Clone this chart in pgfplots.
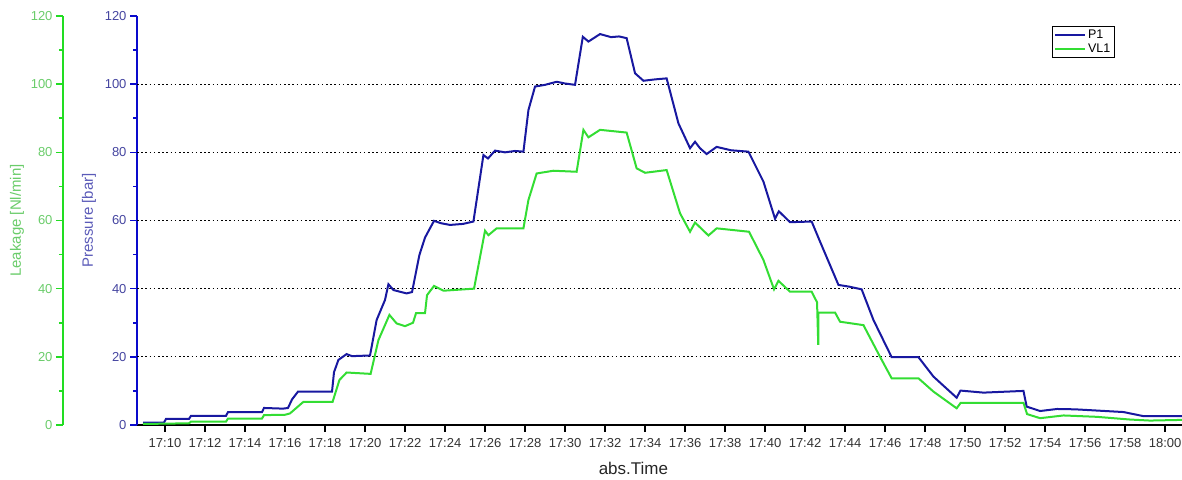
\documentclass[border=0pt]{standalone}
\usepackage{pgfplots}
\pgfplotsset{compat=1.18}
\usepackage{fontspec}
\setmainfont{Liberation Sans}
\definecolor{pcol}{HTML}{1818A0}
\definecolor{paxis}{HTML}{0A0ACC}
\definecolor{ptxt}{HTML}{4545A0}
\definecolor{plab}{HTML}{5A5AB8}
\definecolor{gcol}{HTML}{33DD33}
\definecolor{gaxis}{HTML}{22DD22}
\definecolor{gtxt}{HTML}{6ACC6A}
\begin{document}
\begin{tikzpicture}[x=1pt,y=1pt]
% Leakage axis (left, green)
\begin{axis}[
  at={(63pt,54pt)}, anchor=south west,
  scale only axis, width=1045pt, height=409pt,
  xmin=0, xmax=1, ymin=0, ymax=120,
  axis y line*=left, axis x line=none,
  y axis line style={gaxis, line width=2pt},
  ytick={0,20,...,120}, minor ytick={10,30,...,110},
  tick align=outside,
  major tick length=7pt, minor tick length=4pt,
  every tick/.style={gaxis, line width=1.6pt},
  yticklabel style={text=gtxt, font=\fontsize{13}{13}\selectfont},
  /pgf/number format/assume math mode=true,
  ylabel={Leakage [Nl/min]},
  ylabel style={text=gtxt, font=\fontsize{15}{15}\selectfont, at={(axis description cs:-0.044,0.5)}, anchor=center},
]
\end{axis}
% Main axis
\begin{axis}[
  at={(137pt,54pt)}, anchor=south west,
  scale only axis, width=1045pt, height=409pt,
  xmin=8.6, xmax=60.85, ymin=0, ymax=120,
  axis x line*=bottom, axis y line*=left,
  x axis line style={black, line width=2pt},
  y axis line style={paxis, line width=2pt},
  tick align=outside,
  major tick length=7pt, minor tick length=4pt,
  xtick={10,12,...,60},
  xticklabels={17:10,17:12,17:14,17:16,17:18,17:20,17:22,17:24,17:26,17:28,17:30,17:32,17:34,17:36,17:38,17:40,17:42,17:44,17:46,17:48,17:50,17:52,17:54,17:56,17:58,18:00},
  x tick style={black, line width=1.6pt},
  y tick style={paxis, line width=1.6pt},
  ytick={0,20,...,120}, minor ytick={10,30,...,110},
  xticklabel style={text=black!80, font=\fontsize{13}{13}\selectfont, yshift=-3pt},
  yticklabel style={text=ptxt, font=\fontsize{13}{13}\selectfont},
  /pgf/number format/assume math mode=true,
  extra y ticks={20,40,60,80,100},
  extra y tick labels={},
  extra y tick style={grid=major, major tick length=0pt, major grid style={black, line width=0.9pt, dash pattern=on 1.6pt off 2.6pt}},
  ylabel={Pressure [bar]},
  ylabel style={text=plab, font=\fontsize{15}{15}\selectfont, at={(axis description cs:-0.046,0.5)}, anchor=center},
  xlabel={abs.Time},
  xlabel style={text=black!85, font=\fontsize{17}{17}\selectfont, at={(axis description cs:0.475,0)}, anchor=center, yshift=-43pt},
  legend style={at={(0.935,0.976)}, anchor=north east, draw=black, line width=0.6pt, font=\fontsize{12.5}{12.5}\selectfont, inner sep=1.5pt, row sep=0pt, cells={anchor=west}},
  legend image code/.code={\draw[#1, line width=2pt] (0pt,0pt) -- (30pt,0pt);},
  clip=false,
]
\addplot[pcol, line width=2pt] coordinates {
(8.9,0.7)(9.95,0.7)(10.05,1.8)(11.2,1.8)(11.3,2.7)(13.05,2.7)(13.15,3.8)(14.85,3.8)
(14.95,5.0)(15.9,4.8)(16.15,5.0)(16.35,7.5)(16.65,9.8)(18.35,9.8)(18.45,15.5)(18.67,19.1)
(19.08,20.8)(19.35,20.2)(20.25,20.4)(20.58,30.8)(21.0,36.7)(21.17,41.3)(21.42,39.6)
(22.08,38.6)(22.35,39.0)(22.72,49.9)(23.0,55)(23.45,59.9)(23.8,59.2)(24.25,58.7)(24.9,59.0)(25.42,59.7)
(25.92,79.2)(26.15,78.2)(26.5,80.5)(27.0,80.0)(27.5,80.4)(27.92,80.2)(28.17,92.4)(28.5,99.3)(29.0,99.8)(29.58,100.7)
(30.0,100.2)(30.5,99.8)(30.89,113.9)(31.17,112.5)(31.75,114.7)(32.3,113.8)(32.7,114.0)(33.08,113.5)(33.5,103.2)(33.92,101.0)
(34.5,101.4)(35.08,101.7)(35.67,88.5)(36.25,81.2)(36.5,83.1)(36.75,81.2)(37.08,79.5)(37.58,81.6)
(38.3,80.6)(39.17,80.2)(39.92,71.4)(40.5,60.5)(40.69,62.7)(41.25,59.5)(42.33,59.7)(42.75,53.8)
(43.67,41.1)(44.2,40.6)(44.83,39.8)(45.42,30.8)(46.33,19.9)(47.67,19.9)(48.42,14.2)(49.58,8.0)
(49.77,10.1)(50.92,9.5)(52.92,10.0)(53.08,5.4)(53.75,4.1)(54.6,4.7)(55.5,4.6)(57.92,3.8)
(58.92,2.6)(60.85,2.6)
};
\addlegendentry{P1}
\addplot[gcol, line width=2pt] coordinates {
(8.9,0.3)(11.2,0.5)(11.3,1.0)(13.05,1.0)(13.15,1.9)(14.85,1.9)(14.95,2.9)(16.0,3.0)
(16.25,3.4)(16.92,6.8)(18.38,6.8)(18.72,13.2)(19.08,15.4)(20.28,15.0)(20.67,24.9)
(21.22,32.3)(21.58,29.8)(22.0,29.0)(22.4,30.0)(22.55,32.8)(23.0,32.8)(23.1,38.1)
(23.45,40.8)(23.92,39.4)(25.45,40.0)(26.0,57.0)(26.17,55.7)(26.58,57.7)(27.92,57.7)
(28.17,66.0)(28.58,73.8)(29.42,74.6)(30.58,74.3)(30.92,86.6)(31.17,84.4)(31.75,86.6)
(33.08,85.8)(33.58,75.3)(34.0,74.0)(35.08,74.8)(35.75,62.1)(36.25,56.7)(36.5,59.4)
(37.17,55.6)(37.58,57.7)(39.2,56.7)(39.92,48.4)(40.45,39.8)(40.67,42.3)(41.25,39.1)
(42.33,39.1)(42.6,36.0)(42.66,23.5)(42.67,33.0)(43.5,33.0)(43.75,30.3)(44.92,29.3)
(45.75,20.0)(46.33,13.7)(47.67,13.7)(48.42,9.8)(49.58,4.9)(49.78,6.5)(52.92,6.5)
(53.1,3.2)(53.75,2.0)(54.92,2.8)(56.58,2.4)(58.25,1.6)(59.25,1.3)(60.85,1.5)
};
\addlegendentry{VL1}
\end{axis}
\pgfresetboundingbox
\useasboundingbox (0,0) rectangle (1182pt,479pt);
\end{tikzpicture}
\end{document}
